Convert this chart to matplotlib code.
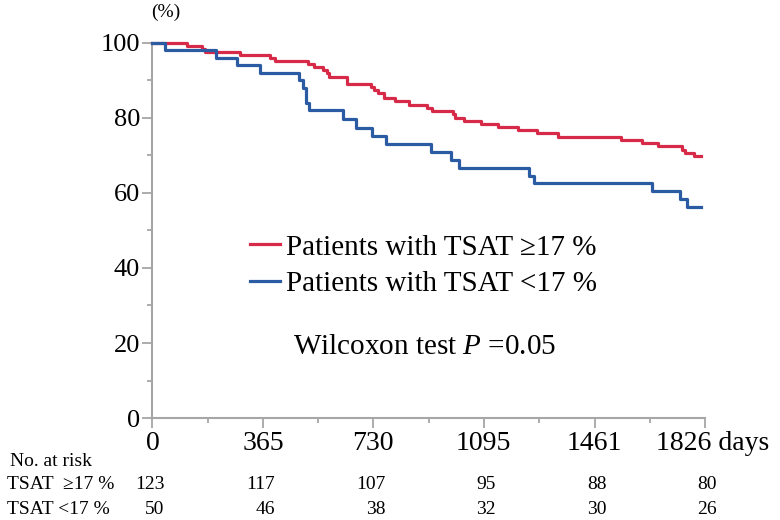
import matplotlib.pyplot as plt
import matplotlib.transforms as mtransforms
from matplotlib.lines import Line2D

plt.rcParams['font.family'] = ['Liberation Serif', 'DejaVu Serif']
plt.rcParams['mathtext.fontset'] = 'custom'
plt.rcParams['mathtext.rm'] = 'Liberation Serif'
plt.rcParams['mathtext.it'] = 'Liberation Serif:italic'

# Kaplan-Meier steps (days, % surviving after the step)
high_t = [113, 163, 173, 289, 388, 405, 515, 535, 564, 576, 583, 642, 722, 733, 744,
          766, 801, 848, 906, 923, 994, 1000, 1030, 1086, 1143, 1207, 1270, 1341,
          1550, 1618, 1671, 1751, 1761, 1789]
high_s = [99.2, 98.4, 97.6, 96.7, 95.9, 95.1, 94.3, 93.5, 92.7, 91.9, 90.8, 89.1, 88.3,
          87.5, 86.7, 85.3, 84.4, 83.5, 82.6, 81.7, 80.9, 80.0, 79.2, 78.4, 77.6, 76.7,
          75.9, 75.0, 74.1, 73.3, 72.4, 71.5, 70.6, 69.9]
low_t = [41, 210, 278, 355, 485, 497, 506, 509, 517, 630, 672, 725, 773, 922, 986,
         1014, 1244, 1260, 1651, 1743, 1765]
low_s = [98, 96, 94, 92, 90, 88, 86, 84, 82, 79.8, 77.4, 75.1, 72.9, 70.9, 68.8,
         66.7, 64.6, 62.5, 60.4, 58.3, 56.2]
end_day = 1812

tick_days = [0, 365, 730, 1095, 1461, 1826]
tick_labels = ['0', '365', '730', '1095', '1461', '1826 days']
risk_high = [123, 117, 107, 95, 88, 80]
risk_low = [50, 46, 38, 32, 30, 26]

red = '#d62a48'
blue = '#2b5ba3'
grey = '#a6a6a6'

fig = plt.figure(figsize=(7.8, 5.2), dpi=100)
ax = fig.add_axes([0.1955, 0.196, 0.7083, 0.7218])

for t, s, c in [(high_t, high_s, red), (low_t, low_s, blue)]:
    xs = [0] + t + [end_day]
    ys = [100] + s + [s[-1]]
    ax.step(xs, ys, where='post', color=c, lw=2.3, clip_on=False, zorder=3)

ax.set_xlim(0, 1826)
ax.set_ylim(0, 100)
for side in ['top', 'right']:
    ax.spines[side].set_visible(False)
for side in ['left', 'bottom']:
    ax.spines[side].set_color(grey)
    ax.spines[side].set_linewidth(1.5)

ax.set_xticks(tick_days)
ax.set_xticklabels(tick_labels, fontsize=20)
ax.set_xticks([(a + b) / 2 for a, b in zip(tick_days[:-1], tick_days[1:])], minor=True)
ax.set_yticks(range(0, 101, 20))
ax.set_yticks(range(10, 100, 20), minor=True)
ax.tick_params(axis='y', labelsize=19)
ax.tick_params(which='major', length=7, width=1.3, color=grey, pad=2)
ax.tick_params(which='minor', length=3.5, width=1.3, color=grey)

# "1826 days" sits a little right of its tick in the original
last = ax.get_xticklabels()[-1]
last.set_transform(last.get_transform() + mtransforms.ScaledTranslation(0.08, 0, fig.dpi_scale_trans))

ax.text(0.024, 1.08, '(%)', transform=ax.transAxes, ha='center', va='center', fontsize=14)

handles = [Line2D([], [], color=red, lw=2.3), Line2D([], [], color=blue, lw=2.3)]
ax.legend(handles, ['Patients with TSAT \u226517 %', 'Patients with TSAT <17 %'],
          loc='upper left', bbox_to_anchor=(0.176, 0.49), frameon=False, fontsize=21,
          handlelength=1.05, handletextpad=0.2, labelspacing=0.36, borderpad=0,
          borderaxespad=0)

ax.text(0.255, 0.19, 'Wilcoxon test $P$ =0.05', transform=ax.transAxes,
        ha='left', va='center', fontsize=21)

# number at risk table
fig.text(0.013, 0.112, 'No. at risk', fontsize=14, va='center')
fig.text(0.009, 0.068, 'TSAT  \u226517 %', fontsize=14, va='center')
fig.text(0.009, 0.021, 'TSAT <17 %', fontsize=14, va='center')
trans = mtransforms.offset_copy(ax.get_xaxis_transform(), fig=fig, x=12, y=0, units='dots')
for d, h, l in zip(tick_days, risk_high, risk_low):
    ax.text(d, -0.177, str(h), transform=trans, ha='right', va='center', fontsize=14, clip_on=False)
    ax.text(d, -0.243, str(l), transform=trans, ha='right', va='center', fontsize=14, clip_on=False)

fig.savefig('out.png', dpi=100)
